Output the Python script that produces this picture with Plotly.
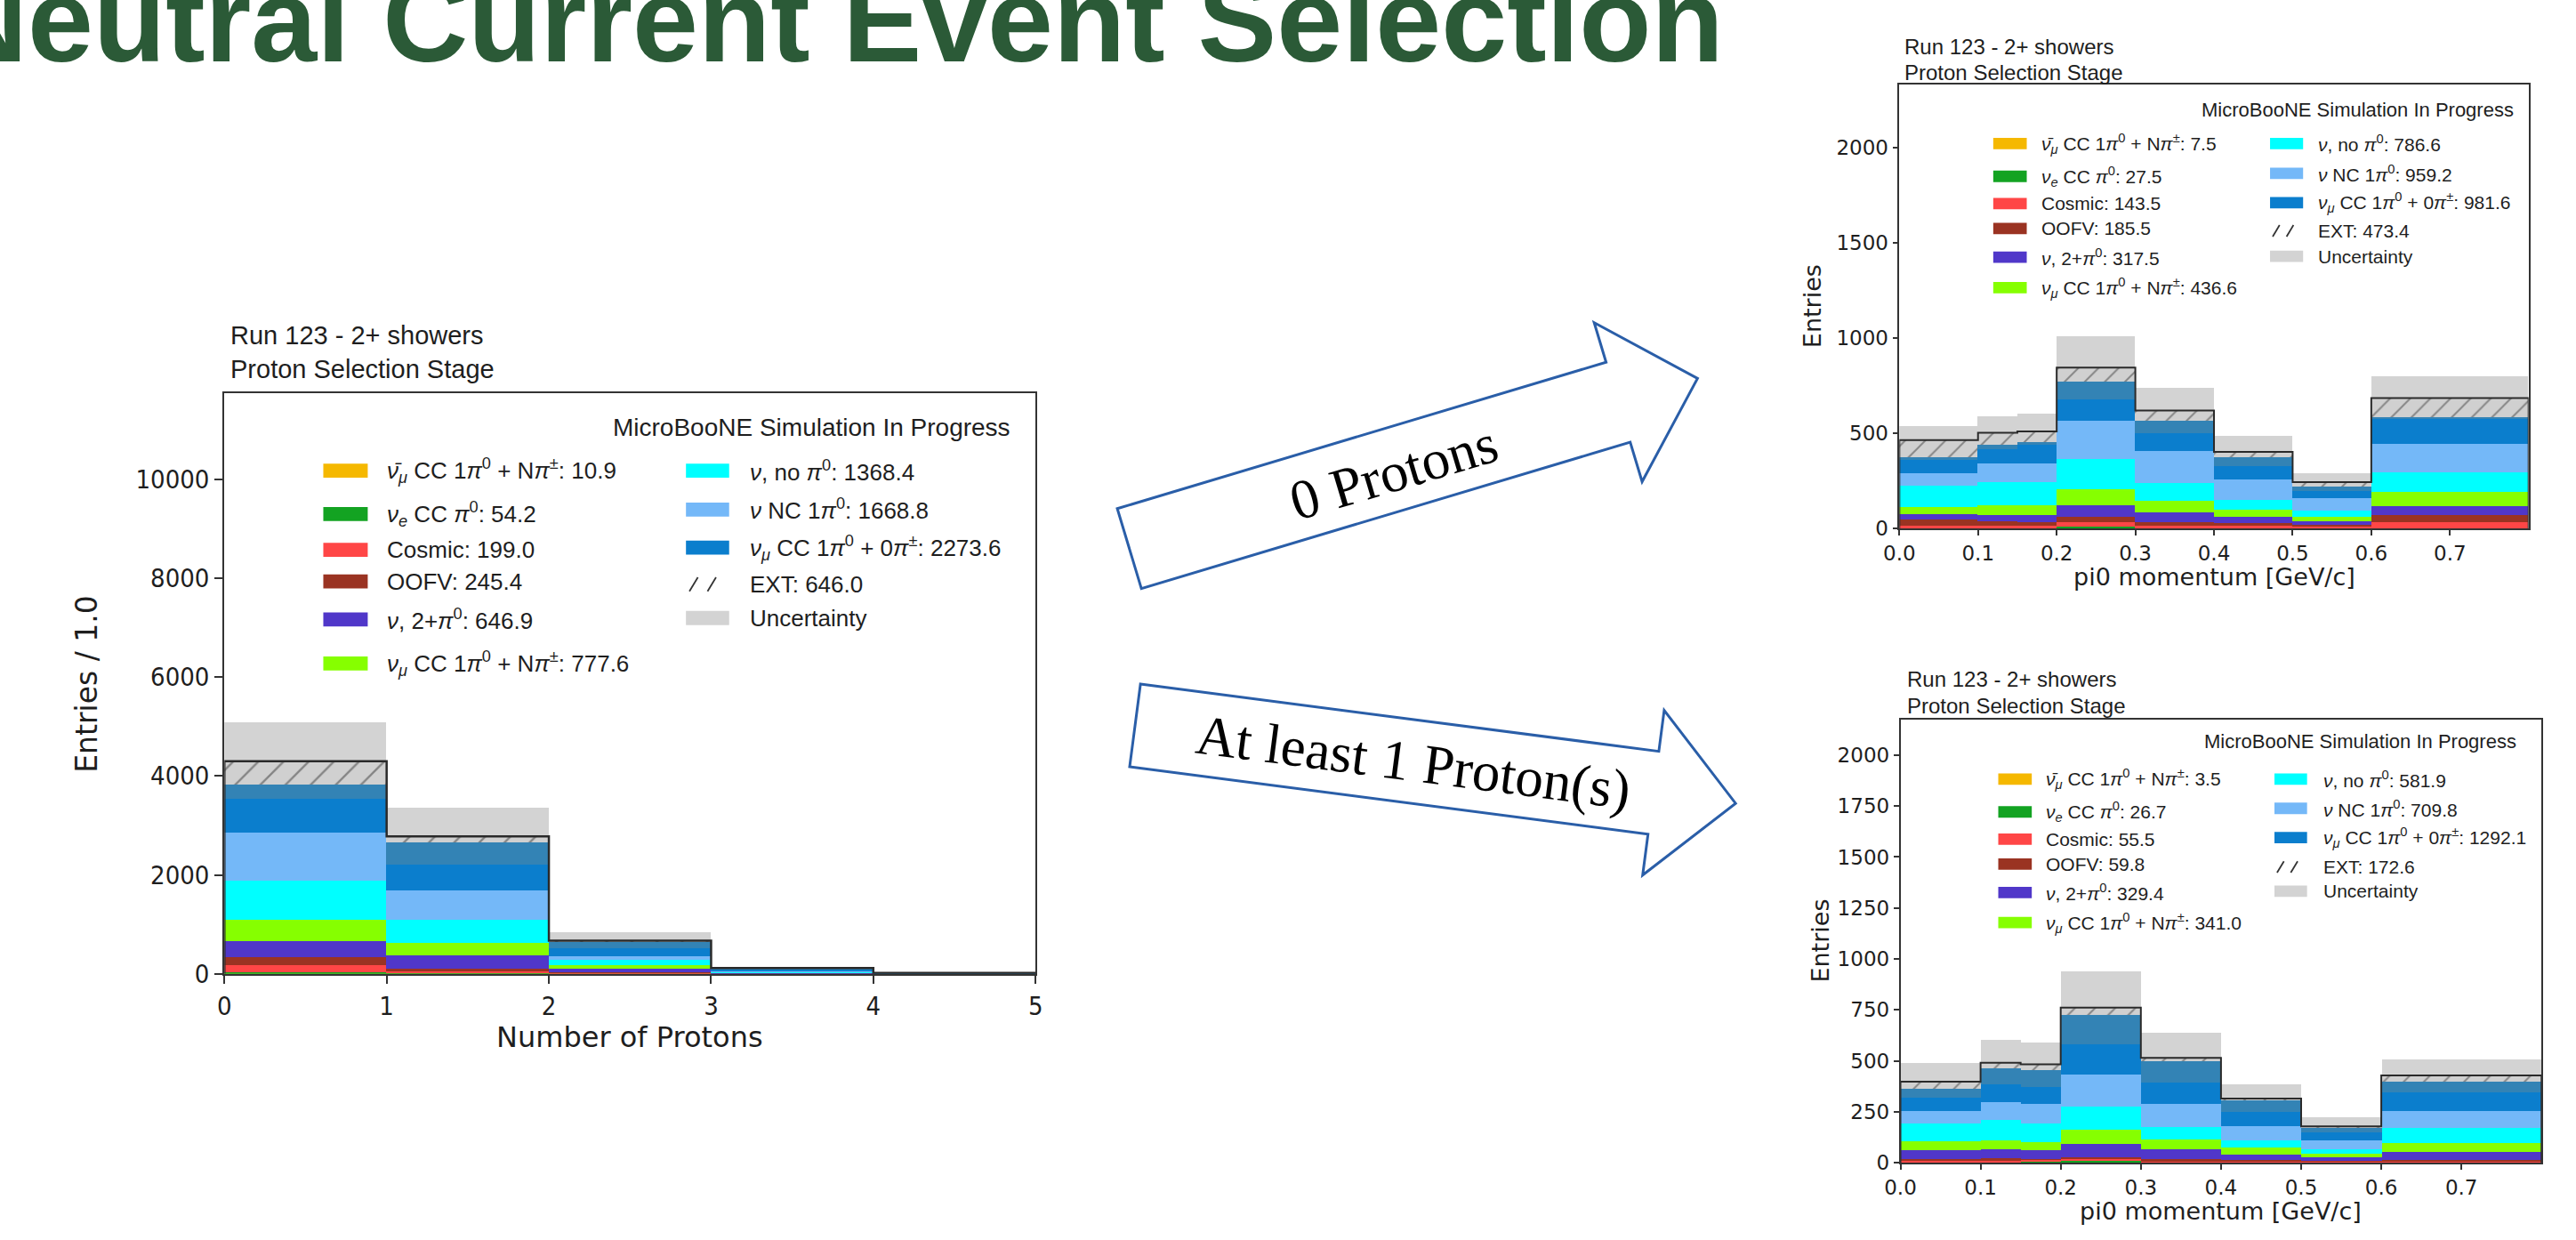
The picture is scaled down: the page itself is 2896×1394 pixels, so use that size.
import math
import plotly.graph_objects as go

W, H = 2896, 1394

# ---------------- data ----------------
proton_edges = [0, 1, 2, 3, 4, 5]
mom_edges = [0.0, 0.1, 0.15, 0.2, 0.3, 0.4, 0.5, 0.6, 0.8]

# Left: Number of Protons (stack order bottom -> top)
np_anumu = [7.0, 3.0, 0.7, 0.2, 0.0]
np_nue = [32, 15, 8, 2, 0.2]
np_cosmic = [148, 42, 10, 2, 0.3]
np_oofv = [160, 55, 20, 6, 1]
np_pi2 = [314, 260, 77, 12, 1.5]
np_npi = [426, 254, 59, 10, 1.5]
np_nopi0 = [805, 461, 118, 12, 2]
np_nc = [970, 604, 71, 15, 3]
np_sig = [686, 515, 148, 30, 5]
np_sig_b = [278, 444, 136, 25, 4]
np_ext = [473, 124, 25, 4, 0.5]
np_err = [787, 586, 178, 18, 5]

# Top right: 0 protons, pi0 momentum
p0_anumu = [0.8, 0.8, 0.8, 2, 1, 0.8, 0.5, 0.8]
p0_nue = [3, 3, 3, 9, 3, 3, 2, 2.5]
p0_cosmic = [12, 15, 15, 25, 15, 14, 9, 35]
p0_oofv = [34, 23, 16, 29, 16, 16, 11, 35]
p0_pi2 = [28, 31, 38, 62, 54, 31, 18, 48]
p0_npi = [37, 51, 51, 82, 60, 38, 23, 75]
p0_nopi0 = [112, 123, 123, 161, 91, 51, 34, 101]
p0_nc = [69, 98, 98, 198, 168, 108, 66, 151]
p0_sig = [70, 74, 97, 112, 94, 69, 38, 133]
p0_sig_b = [10, 23, 15, 95, 68, 45, 20, 5]
p0_ext = [89, 62, 54, 71, 51, 28, 23, 100]
p0_err = [74, 88, 97, 165, 123, 84, 49, 118]

# Bottom right: >=1 proton, pi0 momentum
p1_anumu = [0.3, 0.4, 0.4, 1, 0.5, 0.3, 0.2, 0.4]
p1_nue = [2.5, 2.5, 2.5, 10, 2.5, 2.5, 2, 2.5]
p1_cosmic = [6, 6, 11, 10, 5, 4, 3, 4]
p1_oofv = [11.5, 11.5, 3, 7, 8.6, 8.6, 6, 8.6]
p1_pi2 = [43, 47, 43, 66, 49, 26, 14, 39]
p1_npi = [40, 42, 43, 70, 47, 32, 19, 43]
p1_nopi0 = [89, 101, 89, 112, 62, 36, 21.5, 75]
p1_nc = [60, 88, 96, 158, 113.5, 69, 42, 83]
p1_sig = [65, 86, 83, 148, 105, 69, 40, 89]
p1_sig_b = [45, 79, 83, 142, 105, 60, 26, 55]
p1_ext = [36, 27, 29, 37, 17, 7, 5, 29]
p1_err = [89, 112, 106, 180, 122, 72, 44.5, 79]

# legend labels and counts
LABELS = [
    "<i>ν̄</i><sub><i>μ</i></sub> CC 1<i>π</i><sup>0</sup> + N<i>π</i><sup>±</sup>",
    "<i>ν</i><sub><i>e</i></sub> CC <i>π</i><sup>0</sup>",
    "Cosmic",
    "OOFV",
    "<i>ν</i>, 2+<i>π</i><sup>0</sup>",
    "<i>ν</i><sub><i>μ</i></sub> CC 1<i>π</i><sup>0</sup> + N<i>π</i><sup>±</sup>",
    "<i>ν</i>, no <i>π</i><sup>0</sup>",
    "<i>ν</i> NC 1<i>π</i><sup>0</sup>",
    "<i>ν</i><sub><i>μ</i></sub> CC 1<i>π</i><sup>0</sup> + 0<i>π</i><sup>±</sup>",
    "EXT",
]
np_counts = ["10.9", "54.2", "199.0", "245.4", "646.9", "777.6", "1368.4", "1668.8", "2273.6", "646.0"]
p0_counts = ["7.5", "27.5", "143.5", "185.5", "317.5", "436.6", "786.6", "959.2", "981.6", "473.4"]
p1_counts = ["3.5", "26.7", "55.5", "59.8", "329.4", "341.0", "581.9", "709.8", "1292.1", "172.6"]

np_yticks = [0, 2000, 4000, 6000, 8000, 10000]
p0_yticks = [0, 500, 1000, 1500, 2000]
p1_yticks = [0, 250, 500, 750, 1000, 1250, 1500, 1750, 2000]
mom_xticks = [0.0, 0.1, 0.2, 0.3, 0.4, 0.5, 0.6, 0.7]

# ---------------- styling ----------------
COLS = ["#f5b800", "#13a322", "#ff4646", "#9a3322", "#5037c9", "#86ff00",
        "#00ffff", "#74b8f8", "#0b7ecd", "#3383b5"]
EXT_BG = "#d0d0d0"
UNC = "#d3d3d3"
INK = "#1e1e1e"
ARROW = "#2a5ea8"


def X(px):
    return px / W


def Y(py):
    return 1 - py / H


fig = go.Figure()


def add_hist(edges, layers, ext, err, xa, ya, hatch, lw):
    centers = [(a + b) / 2 for a, b in zip(edges[:-1], edges[1:])]
    widths = [b - a for a, b in zip(edges[:-1], edges[1:])]
    for vals, col in zip(layers, COLS):
        fig.add_trace(go.Bar(x=centers, y=vals, width=widths,
                             marker=dict(color=col, line=dict(width=0)),
                             xaxis=xa, yaxis=ya, showlegend=False, hoverinfo="skip"))
    fig.add_trace(go.Bar(x=centers, y=ext, width=widths,
                         marker=dict(color=EXT_BG, line=dict(width=0),
                                     pattern=dict(shape="/", fgcolor="#3a3a3a", size=hatch,
                                                  solidity=0.12, fillmode="overlay")),
                         xaxis=xa, yaxis=ya, showlegend=False, hoverinfo="skip"))
    fig.add_trace(go.Bar(x=centers, y=err, width=widths,
                         marker=dict(color=UNC, line=dict(width=0)),
                         xaxis=xa, yaxis=ya, showlegend=False, hoverinfo="skip"))
    totals = [sum(v[i] for v in layers) + ext[i] for i in range(len(centers))]
    fig.add_trace(go.Scatter(x=[edges[0]] + list(edges), y=[0] + totals + [0], mode="lines",
                             line=dict(color="#2a2a2a", width=lw, shape="hv"),
                             xaxis=xa, yaxis=ya, showlegend=False, hoverinfo="skip"))


add_hist(proton_edges,
         [np_anumu, np_nue, np_cosmic, np_oofv, np_pi2, np_npi, np_nopi0, np_nc, np_sig, np_sig_b],
         np_ext, np_err, "x", "y", 20, 2.5)
add_hist(mom_edges,
         [p0_anumu, p0_nue, p0_cosmic, p0_oofv, p0_pi2, p0_npi, p0_nopi0, p0_nc, p0_sig, p0_sig_b],
         p0_ext, p0_err, "x2", "y2", 16, 2)
add_hist(mom_edges,
         [p1_anumu, p1_nue, p1_cosmic, p1_oofv, p1_pi2, p1_npi, p1_nopi0, p1_nc, p1_sig, p1_sig_b],
         p1_ext, p1_err, "x3", "y3", 16, 2)

TICKFONT_L = "DejaVu Sans Condensed, DejaVu Sans"


def ax(fs, lw, tl, fam="DejaVu Sans"):
    return dict(showline=True, linecolor="#333", linewidth=lw, mirror=True, ticks="outside",
                ticklen=tl, tickwidth=lw, tickcolor="#333", showgrid=False, zeroline=False,
                tickfont=dict(family=fam, size=fs, color=INK), fixedrange=True)


fig.update_layout(
    width=W, height=H, margin=dict(l=0, r=0, t=0, b=0),
    paper_bgcolor="white", plot_bgcolor="white",
    barmode="stack", bargap=0, showlegend=False,
    xaxis=dict(domain=[X(236.4), X(1156.6)], range=[0, 5], anchor="y",
               tickvals=proton_edges, tickformat="d", **ax(29, 2, 9, TICKFONT_L)),
    yaxis=dict(domain=[Y(1108.3), Y(447.3)], range=[0, 11740], anchor="x",
               tickvals=np_yticks, tickformat="d", **ax(29, 2, 9, TICKFONT_L)),
    xaxis2=dict(domain=[X(2136.5), X(2850.3)], range=[0, 0.8], anchor="y2",
                tickvals=mom_xticks, tickformat=".1f", **ax(23, 1.5, 6)),
    yaxis2=dict(domain=[Y(601.7), Y(95.7)], range=[0, 2335], anchor="x2",
                tickvals=p0_yticks, tickformat="d", **ax(23, 1.5, 6)),
    xaxis3=dict(domain=[X(2137.7), X(2865)], range=[0, 0.8], anchor="y3",
                tickvals=mom_xticks, tickformat=".1f", **ax(23, 1.5, 6)),
    yaxis3=dict(domain=[Y(1323.3), Y(819)], range=[0, 2174], anchor="x3",
                tickvals=p1_yticks, tickformat="d", **ax(23, 1.5, 6)),
)

ann = []
shapes = []


def text(px, py, s, size, family="Liberation Sans", xanchor="left", yanchor="middle",
         angle=0, color=INK):
    ann.append(dict(x=X(px), y=Y(py), xref="paper", yref="paper", text=s, showarrow=False,
                    xanchor=xanchor, yanchor=yanchor, textangle=angle, align="left",
                    font=dict(family=family, size=size, color=color)))


# main title (partly cut off at the left / top like the slide)
text(-86, 23, "<b>Neutral Current Event Selection</b>", 133, color="#2b5a37")


def legend(counts, sw1, tx1, sw2, tx2, rows1, rows2, swh, fs):
    for i in range(6):
        yc = rows1[i]
        shapes.append(dict(type="rect", xref="paper", yref="paper",
                           x0=X(sw1[0]), x1=X(sw1[1]), y0=Y(yc + swh / 2), y1=Y(yc - swh / 2),
                           fillcolor=COLS[i], line=dict(width=0)))
        text(tx1, yc, f"{LABELS[i]}: {counts[i]}", fs)
    for j in range(5):
        yc = rows2[j]
        if j < 3:
            shapes.append(dict(type="rect", xref="paper", yref="paper",
                               x0=X(sw2[0]), x1=X(sw2[1]), y0=Y(yc + swh / 2), y1=Y(yc - swh / 2),
                               fillcolor=COLS[6 + j], line=dict(width=0)))
            text(tx2, yc, f"{LABELS[6 + j]}: {counts[6 + j]}", fs)
        elif j == 3:
            wsw = sw2[1] - sw2[0]
            for k in range(2):
                xa = sw2[0] + wsw * 0.08 + k * wsw * 0.42
                shapes.append(dict(type="line", xref="paper", yref="paper",
                                   x0=X(xa), y0=Y(yc + swh / 2), x1=X(xa + swh * 0.6),
                                   y1=Y(yc - swh / 2), line=dict(color="#333", width=1.8)))
            text(tx2, yc, f"{LABELS[9]}: {counts[9]}", fs)
        else:
            shapes.append(dict(type="rect", xref="paper", yref="paper",
                               x0=X(sw2[0]), x1=X(sw2[1]), y0=Y(yc + swh / 2), y1=Y(yc - swh / 2),
                               fillcolor=UNC, line=dict(width=0)))
            text(tx2, yc, "Uncertainty", fs)


# ---- left chart text ----
text(241.5, 381.7, "Run 123 - 2+ showers", 29)
text(241.5, 420, "Proton Selection Stage", 29)
text(1130, 486.7, "MicroBooNE Simulation In Progress", 28, xanchor="right")
legend(np_counts, (348.6, 399), 418.7, (760, 809), 830,
       [535.7, 585, 625.7, 661.7, 705, 755], [535.7, 580, 623.3, 665, 703.3], 16, 26)
text(80, 778, "Entries / 1.0", 33, family="DejaVu Sans", xanchor="center", angle=-90)
text(696.5, 1180, "Number of Protons", 32, family="DejaVu Sans", xanchor="center")

# ---- top right chart text ----
text(2140.6, 53, "Run 123 - 2+ showers", 24)
text(2140.6, 83, "Proton Selection Stage", 24)
text(2835.7, 125, "MicroBooNE Simulation In Progress", 22, xanchor="right")
legend(p0_counts, (2243, 2281), 2295.4, (2557, 2594.5), 2609.7,
       [163.3, 200.7, 231.7, 260, 292.7, 327.3], [163.3, 197.3, 230.7, 262.7, 291.7], 13, 21)
text(2038, 348.7, "Entries", 27, family="DejaVu Sans", xanchor="center", angle=-90)
text(2493.4, 656.7, "pi0 momentum [GeV/c]", 27, family="DejaVu Sans", xanchor="center")

# ---- bottom right chart text ----
text(2143, 773, "Run 123 - 2+ showers", 24)
text(2143, 803, "Proton Selection Stage", 24)
text(2838.6, 844, "MicroBooNE Simulation In Progress", 22, xanchor="right")
legend(p1_counts, (2248.7, 2286.7), 2301, (2562, 2599), 2615.5,
       [886.7, 924, 955, 983.3, 1015.7, 1050], [886.7, 920, 953.3, 986.7, 1014.3], 13, 21)
text(2047, 1071, "Entries", 27, family="DejaVu Sans", xanchor="center", angle=-90)
text(2501.4, 1378, "pi0 momentum [GeV/c]", 27, family="DejaVu Sans", xanchor="center")


# ---- block arrows ----
def arrow(x0, y0, ang, L, w=95, barb=47, head=94):
    a = math.radians(ang)
    d = (math.cos(a), math.sin(a))
    n = (-math.sin(a), math.cos(a))
    loc = [(0, 0), (L, 0), (L, -barb), (L + head, w / 2), (L, w + barb), (L, w), (0, w)]
    pts = [(x0 + u * d[0] + v * n[0], y0 + u * d[1] + v * n[1]) for u, v in loc]
    path = "M " + " L ".join(f"{X(px):.6f},{Y(py):.6f}" for px, py in pts) + " Z"
    shapes.append(dict(type="path", xref="paper", yref="paper", path=path,
                       fillcolor="white", line=dict(color=ARROW, width=3)))


arrow(1249.3, 578.8, -16.72, 579)
arrow(1275.6, 778.5, 7.42, 593)
text(1563, 538, "0 Protons", 63, family="Liberation Serif", xanchor="center", angle=-16.7,
     color="black")
text(1585, 868, "At least 1 Proton(s)", 63, family="Liberation Serif", xanchor="center",
     angle=7.4, color="black")

fig.update_layout(annotations=ann, shapes=shapes)
fig.write_html("out.html", config={"displayModeBar": False},
               post_script="document.body.style.margin='0';")
